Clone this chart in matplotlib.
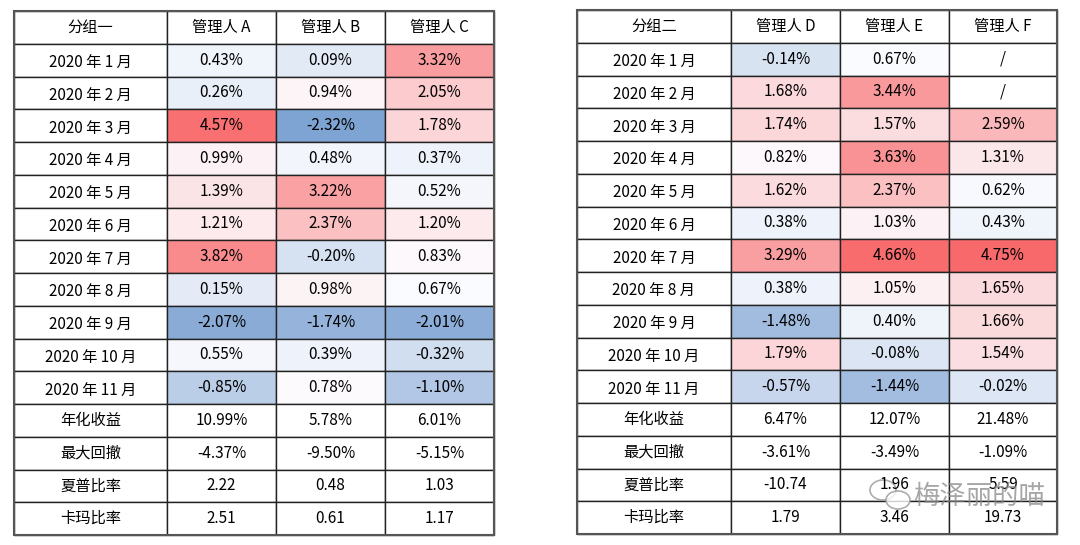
import matplotlib
matplotlib.use("Agg")
import matplotlib.pyplot as plt
from matplotlib.patches import Rectangle, Ellipse
import numpy as np

plt.rcParams['font.family'] = ['Noto Sans CJK SC', 'DejaVu Sans']

# row labels
months = ['2020 年 %d 月' % m for m in range(1, 12)]
stat_names = ['年化收益', '最大回撤', '夏普比率', '卡玛比率']

# group one
group1_title = '分组一'
group1_heads = ['管理人 A', '管理人 B', '管理人 C']
mgr_a = [0.43, 0.26, 4.57, 0.99, 1.39, 1.21, 3.82, 0.15, -2.07, 0.55, -0.85]
mgr_b = [0.09, 0.94, -2.32, 0.48, 3.22, 2.37, -0.20, 0.98, -1.74, 0.39, 0.78]
mgr_c = [3.32, 2.05, 1.78, 0.37, 0.52, 1.20, 0.83, 0.67, -2.01, -0.32, -1.10]
stats_a = [10.99, -4.37, 2.22, 2.51]
stats_b = [5.78, -9.50, 0.48, 0.61]
stats_c = [6.01, -5.15, 1.03, 1.17]

# group two (F has no data for Jan/Feb)
group2_title = '分组二'
group2_heads = ['管理人 D', '管理人 E', '管理人 F']
mgr_d = [-0.14, 1.68, 1.74, 0.82, 1.62, 0.38, 3.29, 0.38, -1.48, 1.79, -0.57]
mgr_e = [0.67, 3.44, 1.57, 3.63, 2.37, 1.03, 4.66, 1.05, 0.40, -0.08, -1.44]
mgr_f = [None, None, 2.59, 1.31, 0.62, 0.43, 4.75, 1.65, 1.66, 1.54, -0.02]
stats_d = [6.47, -3.61, -10.74, 1.79]
stats_e = [12.07, -3.49, 1.96, 3.46]
stats_f = [21.48, -1.09, 5.59, 19.73]

# excel style 3-colour scale
BLUE = np.array([0x5A, 0x8A, 0xC6]) / 255
WHITE = np.array([0xFC, 0xFC, 0xFF]) / 255
RED = np.array([0xF8, 0x69, 0x6B]) / 255
VMIN, VMID, VMAX = -3.2, 0.72, 4.75


def scale_color(v):
    if v is None:
        return 'white'
    if v >= VMID:
        t = min((v - VMID) / (VMAX - VMID), 1)
        return tuple(WHITE + (RED - WHITE) * t)
    t = min((VMID - v) / (VMID - VMIN), 1)
    return tuple(WHITE + (BLUE - WHITE) * t)


def fmt_stat(i, v):
    return '%.2f%%' % v if i < 2 else '%.2f' % v


def draw_table(ax, x_edges, top, bottom, title, heads, cols, stats):
    n_rows = 1 + len(months) + len(stat_names)
    h = (bottom - top) / n_rows
    fs = 11
    # header
    labels = [title] + heads
    for j, lab in enumerate(labels):
        x0, x1 = x_edges[j], x_edges[j + 1]
        ax.add_patch(Rectangle((x0, top), x1 - x0, h, fc='white', ec='#222222', lw=1))
        ax.text((x0 + x1) / 2, top + h / 2, lab, ha='center', va='center', fontsize=fs)
    # months
    for i, m in enumerate(months):
        y0 = top + h * (i + 1)
        ax.add_patch(Rectangle((x_edges[0], y0), x_edges[1] - x_edges[0], h,
                               fc='white', ec='#222222', lw=1))
        ax.text((x_edges[0] + x_edges[1]) / 2, y0 + h / 2 + 2.5, m,
                ha='center', va='center', fontsize=fs)
        for j, col in enumerate(cols):
            v = col[i]
            x0, x1 = x_edges[j + 1], x_edges[j + 2]
            ax.add_patch(Rectangle((x0, y0), x1 - x0, h, fc=scale_color(v),
                                   ec='#222222', lw=1))
            txt = '/' if v is None else '%.2f%%' % v
            ax.text((x0 + x1) / 2, y0 + h / 2, txt, ha='center', va='center', fontsize=fs)
    # statistics
    for i, s in enumerate(stat_names):
        y0 = top + h * (1 + len(months) + i)
        ax.add_patch(Rectangle((x_edges[0], y0), x_edges[1] - x_edges[0], h,
                               fc='white', ec='#222222', lw=1))
        ax.text((x_edges[0] + x_edges[1]) / 2, y0 + h / 2, s,
                ha='center', va='center', fontsize=fs)
        for j, st in enumerate(stats):
            x0, x1 = x_edges[j + 1], x_edges[j + 2]
            ax.add_patch(Rectangle((x0, y0), x1 - x0, h, fc='white', ec='#222222', lw=1))
            ax.text((x0 + x1) / 2, y0 + h / 2, fmt_stat(i, st[i]),
                    ha='center', va='center', fontsize=fs)
    # outer border
    ax.add_patch(Rectangle((x_edges[0], top), x_edges[-1] - x_edges[0], bottom - top,
                           fc='none', ec='#555555', lw=1.5))


fig = plt.figure(figsize=(10.8, 5.45), dpi=100)
ax = fig.add_axes([0, 0, 1, 1])
ax.set_xlim(0, 1080)
ax.set_ylim(545, 0)
ax.axis('off')

draw_table(ax, [14, 167, 276, 385, 494], 11, 535, group1_title, group1_heads,
           [mgr_a, mgr_b, mgr_c], [stats_a, stats_b, stats_c])
draw_table(ax, [577, 731, 840, 949, 1057], 10, 534, group2_title, group2_heads,
           [mgr_d, mgr_e, mgr_f], [stats_d, stats_e, stats_f])

# watermark: chat-bubble icon + account name
ax.add_patch(Ellipse((883, 490), 26, 20, fc='none', ec='#999999', lw=1.2, alpha=0.8))
ax.add_patch(Ellipse((898, 500), 24, 18, fc='white', ec='#999999', lw=1.2, alpha=0.8))
ax.text(1045, 496, '梅泽丽的喵', ha='right', va='center', fontsize=19,
        color='#888888', alpha=0.75)

fig.savefig('out.png', dpi=100)
